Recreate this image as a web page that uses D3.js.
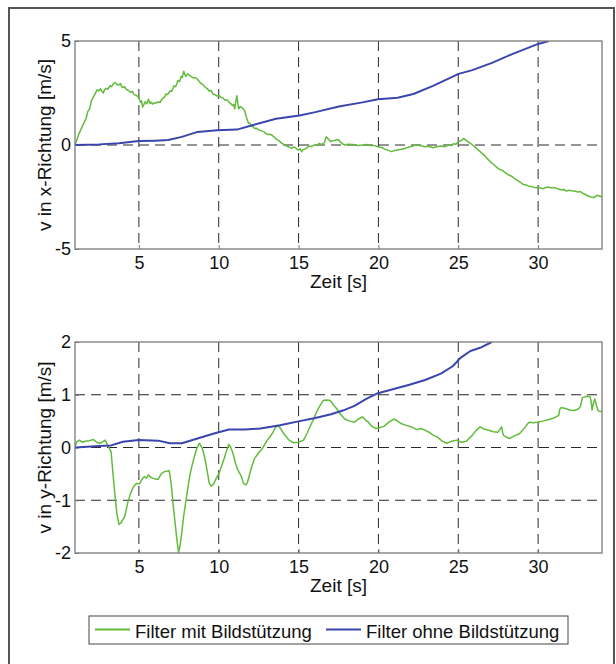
<!DOCTYPE html>
<html>
<head>
<meta charset="utf-8">
<script src="https://cdn.jsdelivr.net/npm/d3@7"></script>
<style>
  body { margin: 0; background: #fff; }
  text { font-family: "Liberation Sans", Arial, sans-serif; fill: #111; }
</style>
</head>
<body>
<div id="chart"></div>
<script>
// time axis + tick values
const timeRange = [1, 34];
const timeTicks = [5, 10, 15, 20, 25, 30];
const vxTicks = [-5, 0, 5];
const vyTicks = [-2, -1, 0, 1, 2];
const seriesNames = ['Filter mit Bildstützung', 'Filter ohne Bildstützung'];
const seriesColors = ['#62bb3c', '#3a45ae'];

// v in x-Richtung, [t, v]
const vxMit = [
  [1.0, 0], [1.2, 0.45], [1.4, 0.8], [1.54, 1.03], [1.7, 1.3], [1.8, 1.6], [1.92, 1.75], [2.03, 2.13],
  [2.15, 2.3], [2.25, 2.45], [2.38, 2.65], [2.48, 2.6], [2.6, 2.7], [2.68, 2.58], [2.77, 2.5], [2.85, 2.66],
  [2.95, 2.72], [3.05, 2.68], [3.2, 2.85], [3.3, 2.8], [3.4, 2.95], [3.51, 3.0], [3.6, 2.92], [3.7, 2.88],
  [3.85, 2.95], [3.92, 2.82], [4.0, 2.76], [4.1, 2.8], [4.2, 2.68], [4.35, 2.62], [4.49, 2.53], [4.6, 2.58],
  [4.7, 2.42], [4.85, 2.38], [4.99, 2.29], [5.1, 2.05], [5.17, 2.12], [5.23, 1.82], [5.32, 1.95], [5.4, 2.08],
  [5.5, 1.98], [5.6, 2.2], [5.7, 2.0], [5.78, 2.06], [5.85, 1.97], [6.0, 2.03], [6.1, 2.02], [6.2, 2.07],
  [6.34, 2.05], [6.42, 2.18], [6.5, 2.25], [6.6, 2.3], [6.7, 2.45], [6.8, 2.42], [6.95, 2.6], [7.05, 2.58],
  [7.2, 2.84], [7.3, 2.8], [7.45, 3.1], [7.55, 3.05], [7.65, 3.3], [7.72, 3.25], [7.81, 3.55], [7.88, 3.38],
  [7.95, 3.3], [8.05, 3.42], [8.18, 3.35], [8.3, 3.28], [8.4, 3.22], [8.52, 3.25], [8.67, 3.16], [8.78, 3.05],
  [8.9, 2.95], [9.02, 2.9], [9.16, 2.76], [9.28, 2.72], [9.4, 2.6], [9.52, 2.62], [9.65, 2.45], [9.78, 2.42],
  [9.9, 2.35], [10.02, 2.38], [10.15, 2.29], [10.28, 2.25], [10.4, 2.15], [10.52, 2.18], [10.64, 2.05],
  [10.75, 2.0], [10.85, 1.9], [10.93, 1.95], [11.0, 1.74], [11.13, 2.37], [11.25, 1.74], [11.35, 1.85],
  [11.45, 1.8], [11.55, 1.72], [11.62, 1.66], [11.75, 1.3], [11.87, 1.03], [11.95, 1.05], [12.05, 0.9],
  [12.15, 0.88], [12.24, 0.79], [12.38, 0.8], [12.5, 0.72], [12.68, 0.68], [12.85, 0.63], [12.95, 0.55],
  [13.1, 0.5], [13.22, 0.52], [13.34, 0.47], [13.48, 0.38], [13.6, 0.28], [13.78, 0.2], [13.96, 0.08],
  [14.1, 0.02], [14.25, -0.05], [14.4, -0.1], [14.57, -0.16], [14.7, -0.1], [14.8, -0.12], [14.9, -0.2],
  [15.0, -0.25], [15.1, -0.18], [15.19, -0.32], [15.3, -0.22], [15.5, -0.15], [15.65, -0.05], [15.8, -0.08],
  [15.92, -0.02], [16.05, 0.02], [16.18, -0.02], [16.29, 0.08], [16.4, 0.04], [16.5, 0.05], [16.62, 0.12],
  [16.73, 0.39], [16.85, 0.3], [17.02, 0.16], [17.12, 0.2], [17.25, 0.22], [17.4, 0.26], [17.52, 0.24],
  [17.6, 0.15], [17.7, 0.1], [17.8, 0.03], [17.89, 0], [18.1, 0.04], [18.4, 0.02], [18.7, -0.02],
  [18.99, 0], [19.2, 0.03], [19.5, -0.02], [19.75, -0.03], [19.97, -0.08], [20.2, -0.12], [20.4, -0.2],
  [20.62, -0.26], [20.84, -0.32], [21.0, -0.26], [21.2, -0.24], [21.45, -0.2], [21.7, -0.16], [21.9, -0.1],
  [22.1, -0.06], [22.25, -0.02], [22.43, 0], [22.65, -0.04], [22.9, -0.08], [23.15, -0.06], [23.42, -0.13],
  [23.65, -0.08], [23.9, -0.05], [24.15, -0.08], [24.4, 0], [24.55, -0.02], [24.7, 0.06], [24.85, 0.04],
  [25.02, 0.16], [25.15, 0.2], [25.25, 0.26], [25.34, 0.32], [25.42, 0.26], [25.5, 0.22], [25.62, 0.15],
  [25.76, 0.08], [25.9, 0.0], [26.05, -0.1], [26.2, -0.2], [26.37, -0.32], [26.55, -0.45], [26.7, -0.55],
  [26.85, -0.68], [26.99, -0.79], [27.15, -0.9], [27.3, -1.0], [27.45, -1.1], [27.6, -1.18], [27.75, -1.22],
  [27.9, -1.3], [28.1, -1.42], [28.34, -1.5], [28.5, -1.6], [28.7, -1.7], [28.9, -1.8], [29.08, -1.9],
  [29.25, -1.92], [29.4, -1.98], [29.6, -2.0], [29.82, -2.05], [30.05, -2.04], [30.3, -2.1], [30.45, -2.06],
  [30.6, -2.02], [30.8, -2.06], [31.04, -2.05], [31.2, -2.1], [31.4, -2.15], [31.6, -2.14], [31.78, -2.21],
  [31.95, -2.18], [32.1, -2.2], [32.3, -2.22], [32.52, -2.26], [32.65, -2.24], [32.8, -2.32], [32.95, -2.38],
  [33.13, -2.45], [33.3, -2.5], [33.5, -2.53], [33.62, -2.45], [33.75, -2.42], [33.88, -2.48], [34.0, -2.45]
];
const vxOhne = [
  [1.0, 0], [2.5, 0.03], [3.75, 0.08], [4.99, 0.19], [6.0, 0.21], [6.83, 0.24], [7.69, 0.39], [8.67, 0.63],
  [9.9, 0.71], [11.13, 0.74], [12.11, 0.95], [13.59, 1.26], [15.06, 1.42], [16.05, 1.58], [17.52, 1.85],
  [19.0, 2.05], [19.97, 2.2], [21.2, 2.27], [22.19, 2.45], [23.42, 2.84], [25.02, 3.42], [25.88, 3.6],
  [27.11, 3.95], [28.34, 4.36], [30.0, 4.86], [30.67, 5.0]
];

// v in y-Richtung, [t, v]
const vyMit = [
  [1.0, 0.01], [1.1, 0.1], [1.27, 0.14], [1.45, 0.1], [1.64, 0.12], [1.9, 0.13], [2.16, 0.15], [2.35, 0.1],
  [2.53, 0.08], [2.7, 0.1], [2.89, 0.14], [3.06, 0.03], [3.26, -0.08], [3.38, -0.5], [3.51, -0.93],
  [3.62, -1.25], [3.75, -1.46], [3.9, -1.42], [4.12, -1.3], [4.3, -1.05], [4.49, -0.86], [4.65, -0.75],
  [4.86, -0.68], [5.04, -0.69], [5.2, -0.6], [5.35, -0.55], [5.48, -0.58], [5.6, -0.52], [5.72, -0.56],
  [5.85, -0.58], [6.05, -0.6], [6.21, -0.6], [6.4, -0.5], [6.58, -0.46], [6.75, -0.45], [6.9, -0.44],
  [7.02, -0.68], [7.15, -1.1], [7.31, -1.55], [7.4, -1.8], [7.49, -1.99], [7.58, -1.85], [7.69, -1.61],
  [7.8, -1.3], [7.93, -1.05], [8.05, -0.8], [8.18, -0.55], [8.32, -0.35], [8.47, -0.18], [8.62, -0.02],
  [8.79, 0.08], [8.95, 0.0], [9.12, -0.18], [9.25, -0.4], [9.41, -0.68], [9.52, -0.73], [9.65, -0.71],
  [9.82, -0.6], [10.02, -0.49], [10.18, -0.35], [10.34, -0.21], [10.5, -0.05], [10.64, 0.06], [10.76, 0.0],
  [10.89, -0.11], [11.05, -0.3], [11.2, -0.43], [11.3, -0.48], [11.42, -0.55], [11.55, -0.68], [11.7, -0.71],
  [11.8, -0.66], [11.9, -0.55], [12.05, -0.38], [12.24, -0.21], [12.5, -0.1], [12.73, -0.02], [13.0, 0.12],
  [13.2, 0.2], [13.34, 0.26], [13.52, 0.36], [13.71, 0.42], [13.9, 0.35], [14.08, 0.26], [14.4, 0.14],
  [14.69, 0.09], [15.0, 0.1], [15.31, 0.14], [15.55, 0.28], [15.8, 0.45], [16.0, 0.58], [16.17, 0.7],
  [16.35, 0.8], [16.54, 0.89], [16.75, 0.9], [16.98, 0.89], [17.2, 0.8], [17.4, 0.73], [17.65, 0.62],
  [17.89, 0.54], [18.2, 0.5], [18.5, 0.48], [18.75, 0.54], [19.0, 0.58], [19.2, 0.52], [19.37, 0.48],
  [19.6, 0.4], [19.85, 0.36], [20.1, 0.38], [20.34, 0.4], [20.65, 0.48], [20.96, 0.54], [21.2, 0.5],
  [21.45, 0.45], [21.75, 0.42], [22.07, 0.39], [22.4, 0.34], [22.68, 0.36], [22.9, 0.33], [23.17, 0.29],
  [23.4, 0.24], [23.67, 0.2], [24.0, 0.12], [24.28, 0.08], [24.6, 0.12], [24.9, 0.14], [25.2, 0.1],
  [25.51, 0.12], [25.7, 0.18], [25.88, 0.23], [26.1, 0.32], [26.37, 0.39], [26.6, 0.35], [26.86, 0.33],
  [27.2, 0.3], [27.47, 0.29], [27.6, 0.34], [27.72, 0.39], [27.78, 0.28], [27.84, 0.23], [28.0, 0.2],
  [28.21, 0.17], [28.5, 0.22], [28.83, 0.26], [29.0, 0.32], [29.2, 0.39], [29.32, 0.44], [29.44, 0.48],
  [29.7, 0.47], [29.94, 0.48], [30.3, 0.5], [30.67, 0.53], [31.0, 0.56], [31.29, 0.61], [31.35, 0.72],
  [31.45, 0.76], [31.7, 0.74], [31.98, 0.71], [32.25, 0.7], [32.52, 0.73], [32.65, 0.78], [32.77, 0.94],
  [33.0, 0.97], [33.25, 0.96], [33.32, 0.88], [33.38, 0.71], [33.45, 0.82], [33.55, 0.92], [33.65, 0.8],
  [33.75, 0.7], [33.88, 0.68], [34.0, 0.69]
];
const vyOhne = [
  [1.0, 0], [2.5, 0.03], [3.26, 0.04], [4.0, 0.11], [4.99, 0.14], [6.21, 0.13], [6.95, 0.08], [7.69, 0.08],
  [8.67, 0.17], [9.65, 0.26], [10.64, 0.34], [11.62, 0.34], [12.61, 0.36], [13.84, 0.42], [15.06, 0.5],
  [16.05, 0.56], [17.03, 0.63], [17.77, 0.7], [18.5, 0.79], [19.24, 0.92], [19.97, 1.03], [20.96, 1.11],
  [21.94, 1.19], [22.92, 1.28], [23.91, 1.4], [24.65, 1.54], [25.14, 1.7], [25.76, 1.83], [26.37, 1.89],
  [27.1, 2.0]
];

const width = 616;
const height = 664;
const plotLeft = 75;
const plotRight = 602;

const svg = d3.select('#chart').append('svg')
  .attr('width', width)
  .attr('height', height);

// outer frame (open at the bottom, like the scan)
svg.append('path')
  .attr('d', `M9,${height + 5}V8H614V${height + 5}`)
  .attr('fill', 'none')
  .attr('stroke', '#555')
  .attr('stroke-width', 2);

const xScale = d3.scaleLinear().domain(timeRange).range([plotLeft, plotRight]);

function drawPanel(id, top, bottom, yDomain, yTicks, gridVals, label, mit, ohne) {
  const yScale = d3.scaleLinear().domain(yDomain).range([bottom, top]);
  const g = svg.append('g');

  g.append('clipPath').attr('id', id)
    .append('rect')
    .attr('x', plotLeft).attr('y', top)
    .attr('width', plotRight - plotLeft).attr('height', bottom - top);

  // dashed grid
  g.selectAll('.vgrid').data(timeTicks).enter().append('line')
    .attr('x1', d => xScale(d)).attr('x2', d => xScale(d))
    .attr('y1', top).attr('y2', bottom)
    .attr('stroke', '#2a2a2a').attr('stroke-width', 1).attr('stroke-dasharray', '10,6');
  g.selectAll('.hgrid').data(gridVals).enter().append('line')
    .attr('x1', plotLeft).attr('x2', plotRight)
    .attr('y1', d => yScale(d)).attr('y2', d => yScale(d))
    .attr('stroke', '#2a2a2a').attr('stroke-width', 1).attr('stroke-dasharray', '10,6');

  // axes, plain hyphen minus like the original
  const fmt = d => String(d);
  const xAxis = d3.axisBottom(xScale).tickValues(timeTicks).tickFormat(fmt).tickSize(-4).tickPadding(7);
  g.append('g')
    .attr('transform', `translate(0,${bottom})`)
    .call(xAxis)
    .call(a => a.select('.domain').remove())
    .call(a => a.selectAll('line').attr('stroke', '#777'))
    .call(a => a.selectAll('text').attr('font-size', '18px').attr('font-family', null).attr('fill', '#111'));

  const yAxis = d3.axisLeft(yScale).tickValues(yTicks).tickFormat(fmt).tickSize(-4).tickPadding(4);
  g.append('g')
    .attr('transform', `translate(${plotLeft},0)`)
    .call(yAxis)
    .call(a => a.select('.domain').remove())
    .call(a => a.selectAll('line').attr('stroke', '#777'))
    .call(a => a.selectAll('text').attr('font-size', '18px').attr('font-family', null).attr('fill', '#111'));

  const line = d3.line().x(d => xScale(d[0])).y(d => yScale(d[1]));
  const lines = g.append('g').attr('clip-path', `url(#${id})`);
  lines.append('path').datum(mit)
    .attr('d', line).attr('fill', 'none')
    .attr('stroke', seriesColors[0]).attr('stroke-width', 1.5).attr('stroke-linejoin', 'round');
  lines.append('path').datum(ohne)
    .attr('d', line).attr('fill', 'none')
    .attr('stroke', seriesColors[1]).attr('stroke-width', 2).attr('stroke-linejoin', 'round');

  // plot box
  g.append('rect')
    .attr('x', plotLeft).attr('y', top)
    .attr('width', plotRight - plotLeft).attr('height', bottom - top)
    .attr('fill', 'none').attr('stroke', '#7a7a7a').attr('stroke-width', 1.3);

  g.append('text')
    .attr('x', (plotLeft + plotRight) / 2)
    .attr('y', bottom + 39)
    .attr('text-anchor', 'middle')
    .attr('font-size', '19px')
    .text('Zeit [s]');

  g.append('text')
    .attr('transform', `translate(51,${(top + bottom) / 2}) rotate(-90)`)
    .attr('text-anchor', 'middle')
    .attr('font-size', '19px')
    .text(label);
}

drawPanel('clip-x', 41, 249, [-5, 5], vxTicks, [0], 'v in x-Richtung [m/s]', vxMit, vxOhne);
drawPanel('clip-y', 342, 553, [-2, 2], vyTicks, [-1, 0, 1], 'v in y-Richtung [m/s]', vyMit, vyOhne);

// legend
const legend = svg.append('g');
legend.append('rect')
  .attr('x', 89).attr('y', 616).attr('width', 479).attr('height', 28)
  .attr('fill', '#fff').attr('stroke', '#444').attr('stroke-width', 1);
const legendX = [95, 326];
seriesNames.forEach((name, i) => {
  legend.append('line')
    .attr('x1', legendX[i]).attr('x2', legendX[i] + 35)
    .attr('y1', 629.5).attr('y2', 629.5)
    .attr('stroke', seriesColors[i]).attr('stroke-width', 2);
  legend.append('text')
    .attr('x', legendX[i] + 40).attr('y', 637.5)
    .attr('font-size', '18.5px')
    .text(name);
});
</script>
</body>
</html>
